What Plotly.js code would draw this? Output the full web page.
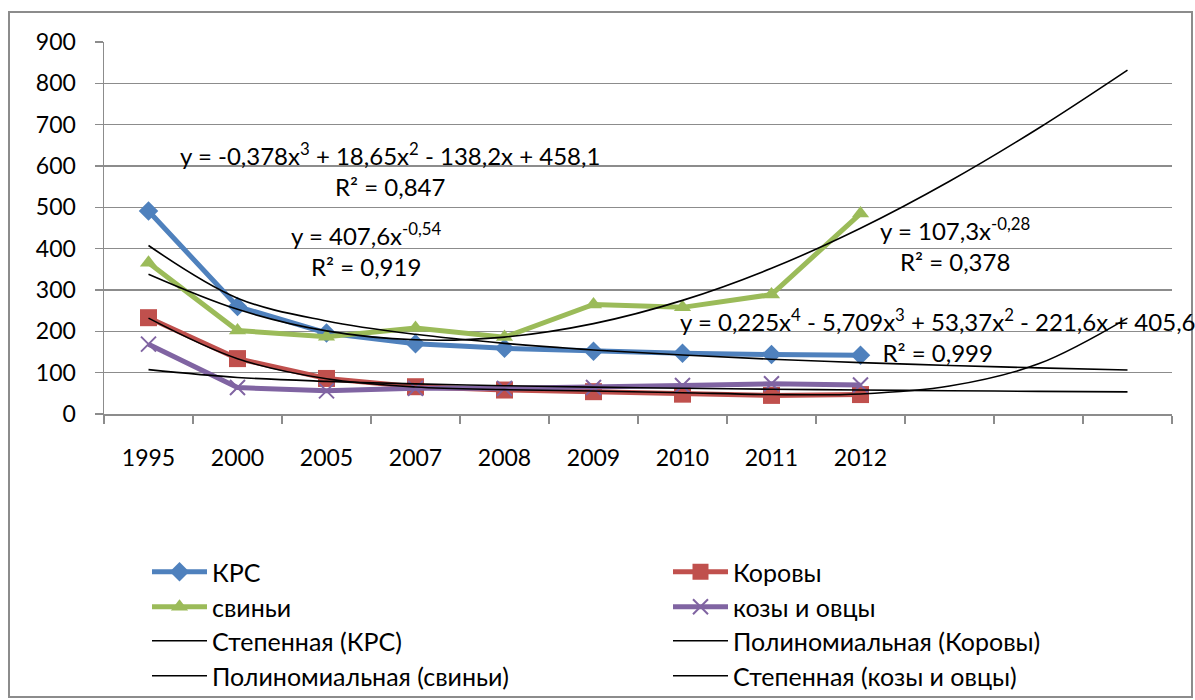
<!DOCTYPE html>
<html>
<head>
<meta charset="utf-8">
<script src="https://cdn.plot.ly/plotly-3.0.1.min.js"></script>
<style>html,body{margin:0;padding:0;background:#fff;}#chart{width:1195px;height:700px;}</style>
</head>
<body>
<div id="chart"></div>
<script>
// ---- data ----
const years = ['1995','2000','2005','2007','2008','2009','2010','2011','2012'];
const krs    = [491, 260, 196, 170, 159, 152, 147, 144, 142];
const korovy = [233, 134, 86, 66, 58, 54, 48, 45, 47];
const svini  = [366, 202, 187, 208, 186, 265, 258, 289, 485];
const kozy   = [169, 64, 56, 62, 62, 64, 69, 73, 70];
// trendline values (12 periods, incl. 3 forecast periods)
const trendKrs    = [407.6, 280.3, 225.2, 192.8, 170.9, 154.9, 142.6, 132.6, 124.4, 117.5, 111.6, 106.5];
const trendKorovy = [231.9, 133.8, 85.2, 65.3, 58.9, 55.8, 51.5, 47.1, 48.5, 67.6, 121.3, 232.1];
const trendSvini  = [338.2, 253.3, 201.1, 179.5, 186.1, 218.7, 274.9, 352.6, 449.4, 563.1, 691.4, 832.1];
const trendKozy   = [107.3, 88.4, 78.9, 72.8, 68.4, 65.0, 62.2, 60.0, 58.0, 56.3, 54.8, 53.5];
const seriesNames = ['КРС', 'Коровы', 'свиньи', 'козы и овцы'];
const trendNames  = ['Степенная (КРС)', 'Полиномиальная (Коровы)', 'Полиномиальная (свиньи)', 'Степенная (козы и овцы)'];
const yTicks = [0, 100, 200, 300, 400, 500, 600, 700, 800, 900];
const eqTexts = [
  'y = -0,378x<sup>3</sup> + 18,65x<sup>2</sup> - 138,2x + 458,1<br>R² = 0,847',
  'y = 407,6x<sup>-0,54</sup><br>R² = 0,919',
  'y = 107,3x<sup>-0,28</sup><br>R² = 0,378',
  'y = 0,225x<sup>4</sup> - 5,709x<sup>3</sup> + 53,37x<sup>2</sup> - 221,6x + 405,6<br>R² = 0,999'
];

// ---- layout helpers ----
const W = 1195, H = 700;
const L = 104, R = 1172, T = 42, B = 414;
const px2x = p => (p - L) / (R - L);
const py2y = p => (B - p) / (B - T);
const FONT = 'Lato, "Open Sans", sans-serif';
const FS = 23, FS_ANN = 24, FS_LEG = 25;

const xs = years.map((_, i) => i + 1);
const xt = trendKrs.map((_, i) => i + 1);

const colors = ['#4F81BD', '#C0504D', '#9BBB59', '#8064A2'];
const symbols = ['diamond', 'square', 'triangle-up', 'x-thin-open'];
const sizes = [15, 17, 15, 15];
const vals = [krs, korovy, svini, kozy];

// legend slots: order of entries -> (column, row)
const legendIds = ['legend', 'legend2', 'legend3', 'legend4', 'legend5', 'legend6', 'legend7', 'legend8'];
const colTextX = [213, 734];
const rowY = [572, 607, 641, 676];

const data = [];
vals.forEach((v, i) => {
  data.push({
    type: 'scatter', mode: 'lines+markers', x: xs, y: v, name: seriesNames[i],
    line: {color: colors[i], width: 5},
    marker: {symbol: symbols[i], size: sizes[i], color: colors[i],
             line: {color: colors[i], width: i === 3 ? 2 : 0}},
    legend: legendIds[i], hoverinfo: 'skip'
  });
});
[trendKrs, trendKorovy, trendSvini, trendKozy].forEach((v, i) => {
  data.push({
    type: 'scatter', mode: 'lines', x: xt, y: v, name: trendNames[i],
    line: {color: '#000000', width: 1.6, shape: 'spline', smoothing: 1},
    legend: legendIds[4 + i], hoverinfo: 'skip'
  });
});

const annPos = [[390, 169], [366, 250], [955, 244], [938, 335]];
const annotations = eqTexts.map((t, i) => ({
  xref: 'paper', yref: 'paper', x: px2x(annPos[i][0]), y: py2y(annPos[i][1]),
  xanchor: 'center', yanchor: 'middle', align: 'center', showarrow: false,
  text: t, font: {family: FONT, size: FS_ANN, color: '#000'}
}));

const layout = {
  width: W, height: H,
  margin: {l: L, r: W - R, t: T, b: H - B, autoexpand: false},
  paper_bgcolor: '#fff', plot_bgcolor: '#fff',
  font: {family: FONT, size: FS, color: '#000'},
  showlegend: true,
  xaxis: {
    range: [0.5, 12.5], tickmode: 'array', tickvals: xs, ticktext: years,
    ticks: '', showgrid: false, zeroline: false,
    showline: true, linecolor: '#8c8c8c', linewidth: 1.5,
    ticklabelstandoff: 23,
    tickfont: {family: FONT, size: FS, color: '#000'},
    minor: {tickmode: 'array', tickvals: [0.5,1.5,2.5,3.5,4.5,5.5,6.5,7.5,8.5,9.5,10.5,11.5,12.5],
            ticks: 'outside', ticklen: 8, tickcolor: '#8c8c8c', tickwidth: 1.5, showgrid: false},
    fixedrange: true
  },
  yaxis: {
    range: [0, 900], tickmode: 'array', tickvals: yTicks,
    ticks: 'outside', ticklen: 8, tickcolor: '#8c8c8c', tickwidth: 1.5,
    showgrid: true, gridcolor: '#8c8c8c', gridwidth: 1.5, zeroline: false,
    showline: true, linecolor: '#8c8c8c', linewidth: 1.5,
    ticklabelstandoff: 14,
    tickfont: {family: FONT, size: FS, color: '#000'},
    fixedrange: true
  },
  annotations: annotations,
  shapes: [{
    type: 'rect', xref: 'paper', yref: 'paper', layer: 'below',
    x0: px2x(9), x1: px2x(1192), y0: py2y(697), y1: py2y(12),
    line: {color: '#8c8c8c', width: 2}, fillcolor: 'rgba(0,0,0,0)'
  }]
};

// one legend per entry, placed in a 2-column grid like the reference
legendIds.forEach((id, k) => {
  const col = k % 2, row = Math.floor(k / 2);
  layout[id] = {
    xref: 'container', yref: 'container',
    x: (colTextX[col] - 66) / W, y: 1 - rowY[row] / H,
    xanchor: 'left', yanchor: 'middle', orientation: 'v',
    itemwidth: 55, bgcolor: 'rgba(0,0,0,0)', borderwidth: 0,
    font: {family: FONT, size: FS_LEG, color: '#000'}
  };
});

Plotly.newPlot('chart', data, layout, {displayModeBar: false, staticPlot: true});
</script>
</body>
</html>
